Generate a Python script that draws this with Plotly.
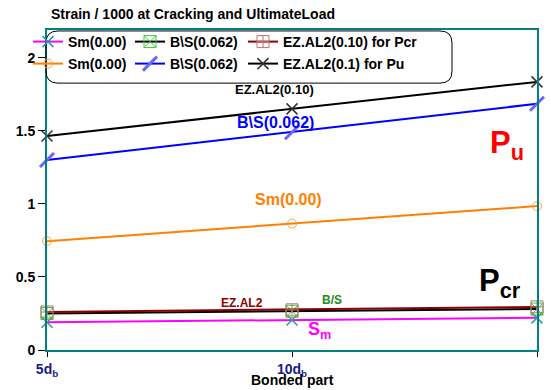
import plotly.graph_objects as go

x_vals = [5, 10, 15]
x_labels = ["5d<sub>b</sub>", "10d<sub>b</sub>", "15d<sub>b</sub>"]

# Cracking load (Pcr)
sm_pcr = [0.19, 0.205, 0.22]
bs_pcr = [0.25, 0.265, 0.28]
ez_pcr = [0.26, 0.275, 0.295]
# Ultimate load (Pu)
sm_pu = [0.745, 0.865, 0.985]
bs_pu = [1.30, 1.49, 1.685]
ez_pu = [1.465, 1.65, 1.835]

y_ticks = [0, 0.5, 1, 1.5, 2]

FONT = "Liberation Sans, Arial, sans-serif"

fig = go.Figure()

def add(y, name, lcolor, sym, mcolor, legend, msize=11, mlw=1.2):
    fig.add_trace(go.Scatter(
        x=x_vals, y=y, name=name, mode="lines+markers",
        line=dict(color=lcolor, width=2),
        marker=dict(symbol=sym, size=msize, color=mcolor,
                    line=dict(color=mcolor, width=mlw)),
        cliponaxis=False, legend=legend,
    ))

add(sm_pcr, "Sm(0.00)", "#ff00ff", "x-thin", "#2a9d9d", "legend", 11, 1.5)
add(bs_pcr, "B\\S(0.062)", "#000000", "square-x-open", "#33cc33", "legend2", 12, 1)
add(ez_pcr, "EZ.AL2(0.10) for Pcr", "#8b0000", "square-cross-open", "#c07070", "legend3", 12, 1)
add(sm_pu, "Sm(0.00)", "#ff8000", "circle-open", "#ffa040", "legend4", 9, 1)
add(bs_pu, "B\\S(0.062)", "#0000ff", "line-ne-open", "#6666ff", "legend5", 14, 3)
add(ez_pu, "EZ.AL2(0.1) for Pu", "#000000", "x-thin", "#333333", "legend6", 11, 1.5)

ann = [
    dict(x=9.65, y=1.78, text="EZ.AL2(0.10)", color="#000000", size=13),
    dict(x=9.67, y=1.555, text="B\\S(0.062)", color="#0000ff", size=16),
    dict(x=9.92, y=1.03, text="Sm(0.00)", color="#ff8000", size=16),
    dict(x=14.38, y=1.40, text="P<sub>u</sub>", color="#ff0000", size=31),
    dict(x=14.25, y=0.46, text="P<sub>cr</sub>", color="#000000", size=31),
    dict(x=8.98, y=0.32, text="EZ.AL2", color="#8b0000", size=12),
    dict(x=10.82, y=0.34, text="B/S", color="#228b22", size=12),
    dict(x=10.57, y=0.135, text="S<sub>m</sub>", color="#ff00ff", size=18),
]
for a in ann:
    fig.add_annotation(x=a["x"], y=a["y"], text=a["text"], showarrow=False,
                       font=dict(family=FONT, size=a["size"], color=a["color"], weight="bold"))

fig.add_annotation(xref="paper", yref="paper", x=0.5, y=-0.064, yanchor="top",
                   text="Bonded part", showarrow=False,
                   font=dict(family=FONT, size=14, color="#000000", weight="bold"))
fig.add_annotation(xref="paper", yref="paper", x=0.005, y=1.0, yshift=16, xanchor="left",
                   yanchor="middle", text="Strain / 1000 at Cracking and UltimateLoad",
                   showarrow=False,
                   font=dict(family=FONT, size=14, color="#000000", weight="bold"))

# rounded legend box
x0, x1, y0, y1 = -0.002, 0.8265, 0.834, 0.997
rx, ry = 0.0245, 0.0375
path = (f"M {x0+rx},{y1} L {x1-rx},{y1} Q {x1},{y1} {x1},{y1-ry} "
        f"L {x1},{y0+ry} Q {x1},{y0} {x1-rx},{y0} L {x0+rx},{y0} "
        f"Q {x0},{y0} {x0},{y0+ry} L {x0},{y1-ry} Q {x0},{y1} {x0+rx},{y1} Z")
fig.add_shape(type="path", path=path, xref="paper", yref="paper",
              line=dict(color="#000000", width=1), fillcolor="rgba(255,255,255,0)")

leg_common = dict(orientation="h", bgcolor="rgba(0,0,0,0)", borderwidth=0,
                  font=dict(family=FONT, size=14, color="#000000", weight="bold"),
                  xref="container", yref="container",
                  xanchor="left", yanchor="middle", itemwidth=30)

W, H = 551, 390
leg_x = [28, 130, 243]
leg_y = [42, 64]
legends = {}
names = ["legend", "legend2", "legend3", "legend4", "legend5", "legend6"]
for i, nm in enumerate(names):
    legends[nm] = dict(x=leg_x[i % 3] / W, y=1 - leg_y[i // 3] / H, **leg_common)

fig.update_layout(
    width=W, height=H,
    margin=dict(l=47, r=14, t=30, b=40, autoexpand=False),
    paper_bgcolor="white", plot_bgcolor="white",
    showlegend=True,
    **legends,
    xaxis=dict(range=[5, 15], tickvals=x_vals, ticktext=x_labels,
               showgrid=False, zeroline=False, showline=True, mirror=True,
               linecolor="#008080", linewidth=2, ticks="outside", ticklen=5,
               tickcolor="#000000",
               tickfont=dict(family=FONT, size=14, color="#1a1a8c", weight="bold")),
    yaxis=dict(range=[0, 2.19], tickvals=y_ticks,
               showgrid=False, zeroline=False, showline=True, mirror=True,
               linecolor="#008080", linewidth=2, ticks="outside", ticklen=7,
               tickcolor="#000000",
               tickfont=dict(family=FONT, size=14, color="#000000", weight="bold")),
)

fig.write_html("out.html")
